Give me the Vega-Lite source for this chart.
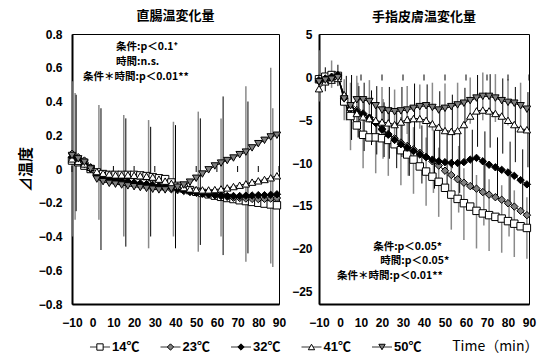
{
  "$schema": "https://vega.github.io/schema/vega-lite/v6.json",
  "background": "white",
  "padding": {"left": 17, "top": 9, "right": 0, "bottom": 0},
  "spacing": 8,
  "datasets": {
    "L": [
      {"t":-10,"14℃":0.05,"23℃":0.09,"32℃":0.07,"41℃":0.06,"50℃":0.08},
      {"t":-7,"14℃":0.04,"23℃":0.07,"32℃":0.05,"41℃":0.045,"50℃":0.06},
      {"t":-4,"14℃":0.02,"23℃":0.05,"32℃":0.03,"41℃":0.03,"50℃":0.04},
      {"t":-1,"14℃":0.0,"23℃":0.01,"32℃":0.0,"41℃":0.01,"50℃":0.0},
      {"t":2,"14℃":-0.02,"23℃":-0.04,"32℃":-0.03,"41℃":-0.015,"50℃":-0.06},
      {"t":5,"14℃":-0.03,"23℃":-0.06,"32℃":-0.05,"41℃":-0.025,"50℃":-0.075},
      {"t":8,"14℃":-0.035,"23℃":-0.07,"32℃":-0.06,"41℃":-0.03,"50℃":-0.085},
      {"t":11,"14℃":-0.035,"23℃":-0.075,"32℃":-0.065,"41℃":-0.035,"50℃":-0.09},
      {"t":14,"14℃":-0.035,"23℃":-0.08,"32℃":-0.07,"41℃":-0.035,"50℃":-0.095},
      {"t":17,"14℃":-0.035,"23℃":-0.085,"32℃":-0.075,"41℃":-0.035,"50℃":-0.1},
      {"t":20,"14℃":-0.035,"23℃":-0.09,"32℃":-0.08,"41℃":-0.037,"50℃":-0.105},
      {"t":23,"14℃":-0.038,"23℃":-0.095,"32℃":-0.085,"41℃":-0.04,"50℃":-0.11},
      {"t":26,"14℃":-0.042,"23℃":-0.1,"32℃":-0.09,"41℃":-0.043,"50℃":-0.115},
      {"t":29,"14℃":-0.048,"23℃":-0.105,"32℃":-0.095,"41℃":-0.048,"50℃":-0.12},
      {"t":32,"14℃":-0.055,"23℃":-0.11,"32℃":-0.1,"41℃":-0.06,"50℃":-0.124},
      {"t":35,"14℃":-0.06,"23℃":-0.115,"32℃":-0.105,"41℃":-0.072,"50℃":-0.124},
      {"t":38,"14℃":-0.08,"23℃":-0.12,"32℃":-0.11,"41℃":-0.085,"50℃":-0.118},
      {"t":41,"14℃":-0.1,"23℃":-0.125,"32℃":-0.118,"41℃":-0.1,"50℃":-0.108},
      {"t":44,"14℃":-0.115,"23℃":-0.13,"32℃":-0.125,"41℃":-0.11,"50℃":-0.095},
      {"t":47,"14℃":-0.125,"23℃":-0.135,"32℃":-0.135,"41℃":-0.118,"50℃":-0.078},
      {"t":50,"14℃":-0.135,"23℃":-0.14,"32℃":-0.14,"41℃":-0.122,"50℃":-0.055},
      {"t":53,"14℃":-0.142,"23℃":-0.145,"32℃":-0.145,"41℃":-0.124,"50℃":-0.03},
      {"t":56,"14℃":-0.15,"23℃":-0.15,"32℃":-0.15,"41℃":-0.124,"50℃":-0.005},
      {"t":59,"14℃":-0.158,"23℃":-0.155,"32℃":-0.155,"41℃":-0.122,"50℃":0.018},
      {"t":62,"14℃":-0.165,"23℃":-0.16,"32℃":-0.158,"41℃":-0.118,"50℃":0.035},
      {"t":65,"14℃":-0.172,"23℃":-0.165,"32℃":-0.16,"41℃":-0.112,"50℃":0.05},
      {"t":68,"14℃":-0.178,"23℃":-0.17,"32℃":-0.16,"41℃":-0.104,"50℃":0.065},
      {"t":71,"14℃":-0.185,"23℃":-0.172,"32℃":-0.16,"41℃":-0.096,"50℃":0.085},
      {"t":74,"14℃":-0.19,"23℃":-0.175,"32℃":-0.158,"41℃":-0.088,"50℃":0.1},
      {"t":77,"14℃":-0.195,"23℃":-0.177,"32℃":-0.157,"41℃":-0.078,"50℃":0.125},
      {"t":80,"14℃":-0.2,"23℃":-0.178,"32℃":-0.155,"41℃":-0.07,"50℃":0.15},
      {"t":83,"14℃":-0.205,"23℃":-0.177,"32℃":-0.155,"41℃":-0.062,"50℃":0.17},
      {"t":86,"14℃":-0.21,"23℃":-0.175,"32℃":-0.153,"41℃":-0.052,"50℃":0.19},
      {"t":89,"14℃":-0.215,"23℃":-0.172,"32℃":-0.15,"41℃":-0.04,"50℃":0.2}
    ],
    "R": [
      {"t":-10,"14℃":-0.2,"23℃":-0.3,"32℃":-0.4,"41℃":-1.3,"50℃":-0.5},
      {"t":-7,"14℃":0.1,"23℃":-0.2,"32℃":-0.1,"41℃":-0.5,"50℃":-0.3},
      {"t":-4,"14℃":0.3,"23℃":0.0,"32℃":0.1,"41℃":-0.3,"50℃":-0.2},
      {"t":-1,"14℃":0.2,"23℃":0.2,"32℃":0.3,"41℃":-0.1,"50℃":0.0},
      {"t":2,"14℃":-2.8,"23℃":-2.2,"32℃":-2.4,"41℃":-2.0,"50℃":-2.5},
      {"t":5,"14℃":-4.5,"23℃":-3.4,"32℃":-3.6,"41℃":-3.5,"50℃":-3.3},
      {"t":8,"14℃":-5.6,"23℃":-3.8,"32℃":-4.0,"41℃":-4.2,"50℃":-2.6},
      {"t":11,"14℃":-6.7,"23℃":-4.2,"32℃":-4.3,"41℃":-4.6,"50℃":-2.6},
      {"t":14,"14℃":-7.0,"23℃":-4.7,"32℃":-4.7,"41℃":-4.8,"50℃":-2.8},
      {"t":17,"14℃":-7.0,"23℃":-5.3,"32℃":-5.3,"41℃":-5.0,"50℃":-3.3},
      {"t":20,"14℃":-7.1,"23℃":-6.0,"32℃":-6.1,"41℃":-5.2,"50℃":-3.8},
      {"t":23,"14℃":-7.3,"23℃":-6.6,"32℃":-6.7,"41℃":-5.3,"50℃":-3.9},
      {"t":26,"14℃":-7.8,"23℃":-7.1,"32℃":-7.3,"41℃":-5.5,"50℃":-4.0},
      {"t":29,"14℃":-8.5,"23℃":-7.6,"32℃":-7.8,"41℃":-5.2,"50℃":-3.9},
      {"t":32,"14℃":-9.0,"23℃":-8.0,"32℃":-8.2,"41℃":-4.9,"50℃":-3.8},
      {"t":35,"14℃":-9.6,"23℃":-8.4,"32℃":-8.6,"41℃":-4.8,"50℃":-3.6},
      {"t":38,"14℃":-10.4,"23℃":-8.8,"32℃":-9.0,"41℃":-4.8,"50℃":-3.4},
      {"t":41,"14℃":-11.0,"23℃":-9.3,"32℃":-9.3,"41℃":-5.0,"50℃":-3.3},
      {"t":44,"14℃":-11.6,"23℃":-9.8,"32℃":-9.6,"41℃":-5.4,"50℃":-3.5},
      {"t":47,"14℃":-12.2,"23℃":-10.3,"32℃":-9.8,"41℃":-5.8,"50℃":-3.8},
      {"t":50,"14℃":-12.9,"23℃":-10.9,"32℃":-9.9,"41℃":-6.2,"50℃":-3.6},
      {"t":53,"14℃":-13.7,"23℃":-11.4,"32℃":-10.0,"41℃":-6.3,"50℃":-3.4},
      {"t":56,"14℃":-14.2,"23℃":-11.9,"32℃":-10.0,"41℃":-6.2,"50℃":-3.2},
      {"t":59,"14℃":-14.7,"23℃":-12.3,"32℃":-9.9,"41℃":-5.5,"50℃":-3.0},
      {"t":62,"14℃":-15.1,"23℃":-12.7,"32℃":-9.6,"41℃":-4.5,"50℃":-2.7},
      {"t":65,"14℃":-15.6,"23℃":-13.0,"32℃":-9.4,"41℃":-3.9,"50℃":-2.4},
      {"t":68,"14℃":-15.9,"23℃":-13.4,"32℃":-9.8,"41℃":-3.8,"50℃":-2.2},
      {"t":71,"14℃":-16.1,"23℃":-13.7,"32℃":-10.2,"41℃":-3.9,"50℃":-2.2},
      {"t":74,"14℃":-16.3,"23℃":-14.0,"32℃":-10.5,"41℃":-4.2,"50℃":-2.4},
      {"t":77,"14℃":-16.5,"23℃":-14.3,"32℃":-10.8,"41℃":-4.5,"50℃":-2.7},
      {"t":80,"14℃":-16.8,"23℃":-14.7,"32℃":-11.1,"41℃":-5.0,"50℃":-2.9},
      {"t":83,"14℃":-17.1,"23℃":-15.1,"32℃":-11.5,"41℃":-5.5,"50℃":-3.0},
      {"t":86,"14℃":-17.4,"23℃":-15.6,"32℃":-12.0,"41℃":-6.0,"50℃":-3.3},
      {"t":89,"14℃":-17.6,"23℃":-16.1,"32℃":-12.5,"41℃":-6.1,"50℃":-3.7}
    ],
    "LE": [
      {"t":-9.5,"lo":-0.40,"hi":0.52,"c":"g"},{"t":-8.5,"lo":-0.30,"hi":0.45,"c":"g"},{"t":-8,"lo":-0.25,"hi":0.44,"c":"k"},
      {"t":3,"lo":-0.30,"hi":0.38,"c":"g"},{"t":4,"lo":-0.48,"hi":0.36,"c":"k"},
      {"t":15,"lo":-0.40,"hi":0.32,"c":"g"},{"t":16,"lo":-0.46,"hi":0.30,"c":"k"},
      {"t":27,"lo":-0.47,"hi":0.29,"c":"g"},{"t":28,"lo":-0.40,"hi":0.25,"c":"k"},
      {"t":39,"lo":-0.40,"hi":0.28,"c":"g"},{"t":40,"lo":-0.47,"hi":0.26,"c":"k"},
      {"t":51,"lo":-0.49,"hi":0.34,"c":"g"},{"t":52,"lo":-0.45,"hi":0.30,"c":"k"},
      {"t":62,"lo":-0.40,"hi":0.30,"c":"g"},{"t":63,"lo":-0.51,"hi":0.43,"c":"k"},
      {"t":74,"lo":-0.55,"hi":0.49,"c":"g"},{"t":75,"lo":-0.50,"hi":0.40,"c":"k"},
      {"t":86,"lo":-0.56,"hi":0.60,"c":"g"},{"t":87,"lo":-0.58,"hi":0.36,"c":"g"}
    ],
    "RE": [
      {"t":-10,"lo":-2.8,"hi":3.2,"c":"g"},{"t":-7,"lo":-1.6,"hi":1.2,"c":"k"},{"t":-4,"lo":-1.2,"hi":2.0,"c":"g"},{"t":-1,"lo":-1.0,"hi":1.5,"c":"k"},
      {"t":5,"lo":-8.5,"hi":-0.6,"c":"g"},{"t":11,"lo":-10.6,"hi":-2.9,"c":"g"},{"t":17,"lo":-11.2,"hi":-3.0,"c":"g"},{"t":23,"lo":-11.5,"hi":-3.4,"c":"g"},
      {"t":29,"lo":-12.6,"hi":-4.6,"c":"g"},{"t":35,"lo":-13.6,"hi":-5.8,"c":"g"},{"t":41,"lo":-15.0,"hi":-7.0,"c":"g"},{"t":47,"lo":-16.3,"hi":-8.2,"c":"g"},
      {"t":53,"lo":-17.8,"hi":-9.8,"c":"g"},{"t":59,"lo":-19.0,"hi":-10.6,"c":"g"},{"t":65,"lo":-20.0,"hi":-11.4,"c":"g"},{"t":71,"lo":-20.3,"hi":-11.9,"c":"g"},
      {"t":77,"lo":-20.5,"hi":-12.6,"c":"g"},{"t":83,"lo":-21.0,"hi":-13.2,"c":"g"},{"t":89,"lo":-21.2,"hi":-14.0,"c":"g"},
      {"t":2,"lo":-5.0,"hi":-0.2,"c":"g"},{"t":8,"lo":-5.4,"hi":0.2,"c":"g"},{"t":14,"lo":-5.3,"hi":-0.3,"c":"g"},{"t":20,"lo":-6.5,"hi":-1.1,"c":"g"},
      {"t":26,"lo":-6.6,"hi":-1.4,"c":"g"},{"t":32,"lo":-6.6,"hi":-1.0,"c":"g"},{"t":38,"lo":-6.0,"hi":-0.8,"c":"g"},{"t":44,"lo":-6.2,"hi":-0.6,"c":"g"},
      {"t":50,"lo":-6.5,"hi":-0.7,"c":"g"},{"t":56,"lo":-5.8,"hi":-0.6,"c":"g"},{"t":62,"lo":-5.4,"hi":0.0,"c":"g"},{"t":68,"lo":-5.0,"hi":0.6,"c":"g"},
      {"t":74,"lo":-5.2,"hi":0.4,"c":"g"},{"t":80,"lo":-5.6,"hi":-0.2,"c":"g"},{"t":86,"lo":-6.0,"hi":-0.6,"c":"g"},
      {"t":8.5,"lo":-7.0,"hi":-0.6,"c":"g"},{"t":20.5,"lo":-9.5,"hi":-2.5,"c":"g"},{"t":32.5,"lo":-11.5,"hi":-4.5,"c":"g"},{"t":44.5,"lo":-13.5,"hi":-6.1,"c":"g"},
      {"t":56.5,"lo":-15.8,"hi":-8.0,"c":"g"},{"t":68.5,"lo":-17.3,"hi":-9.5,"c":"g"},{"t":80.5,"lo":-18.6,"hi":-10.8,"c":"g"},
      {"t":5.5,"lo":-7.3,"hi":0.3,"c":"k"},{"t":11.5,"lo":-8.6,"hi":-0.6,"c":"k"},{"t":17.5,"lo":-9.0,"hi":-1.0,"c":"k"},{"t":23.5,"lo":-9.5,"hi":-1.1,"c":"k"},
      {"t":29.5,"lo":-9.3,"hi":-1.1,"c":"k"},{"t":35.5,"lo":-8.9,"hi":-0.7,"c":"k"},{"t":41.5,"lo":-9.2,"hi":-0.8,"c":"k"},{"t":47.5,"lo":-10.0,"hi":-1.6,"c":"k"},
      {"t":53.5,"lo":-10.6,"hi":-2.0,"c":"k"},{"t":59.5,"lo":-9.8,"hi":-1.2,"c":"k"},{"t":65.5,"lo":-8.1,"hi":0.3,"c":"k"},{"t":71.5,"lo":-8.2,"hi":0.4,"c":"k"},
      {"t":77.5,"lo":-8.9,"hi":-0.1,"c":"k"},{"t":83.5,"lo":-9.9,"hi":-1.1,"c":"k"},{"t":89.5,"lo":-10.5,"hi":-1.7,"c":"k"},
      {"t":3,"lo":-5.0,"hi":0.2,"c":"k"},{"t":9,"lo":-7.0,"hi":-1.0,"c":"k"},{"t":15,"lo":-7.9,"hi":-1.5,"c":"k"},{"t":21,"lo":-9.3,"hi":-2.9,"c":"k"},
      {"t":27,"lo":-10.6,"hi":-4.0,"c":"k"},{"t":33,"lo":-11.5,"hi":-4.9,"c":"k"},{"t":39,"lo":-12.4,"hi":-5.6,"c":"k"},{"t":45,"lo":-13.0,"hi":-6.2,"c":"k"},
      {"t":51,"lo":-13.4,"hi":-6.4,"c":"k"},{"t":57,"lo":-13.5,"hi":-6.5,"c":"k"},{"t":63,"lo":-13.1,"hi":-6.1,"c":"k"},{"t":69,"lo":-13.3,"hi":-6.3,"c":"k"},
      {"t":75,"lo":-14.0,"hi":-7.0,"c":"k"},{"t":81,"lo":-14.7,"hi":-7.5,"c":"k"},{"t":87,"lo":-15.6,"hi":-8.4,"c":"k"}
    ],
    "TK": [{"t":-10},{"t":0},{"t":10},{"t":20},{"t":30},{"t":40},{"t":50},{"t":60},{"t":70},{"t":80},{"t":90}],
    "LG": [{"s":"14℃"},{"s":"23℃"},{"s":"32℃"},{"s":"41℃"},{"s":"50℃"}],
    "A": [
      {"p":"L","t":11.3,"v":0.725,"txt":"条件:p＜0.1⁺"},
      {"p":"L","t":11.3,"v":0.632,"txt":"時間:n.s."},
      {"p":"L","t":-4.7,"v":0.543,"txt":"条件＊時間:p＜0.01**"},
      {"p":"R","t":15.8,"v":-19.8,"txt":"条件:p＜0.05*"},
      {"p":"R","t":19.2,"v":-21.45,"txt":"時間:p＜0.05*"},
      {"p":"R","t":-1.4,"v":-23.2,"txt":"条件＊時間:p＜0.01**"}
    ]
  },
  "vconcat": [
    {
      "spacing": 40,
      "bounds": "flush",
      "hconcat": [
        {
          "width": 207,
          "height": 270,
          "title": "直腸温変化量",
          "encoding": {
            "x": {"field": "t", "type": "quantitative", "scale": {"domain": [-10, 90], "nice": false, "zero": false},
                  "axis": {"values": [-10,0,10,20,30,40,50,60,70,80,90], "labelFlush": false, "labelOverlap": false, "labelPadding": 13, "title": null}}
          },
          "layer": [
            {
              "data": {"name": "LE"},
              "transform": [{"filter": {"field": "c", "equal": "g"}}],
              "mark": {"type": "rule", "color": "#8a8a8a", "strokeWidth": 1.5},
              "encoding": {
                "y": {"field": "lo", "type": "quantitative", "scale": {"domain": [-0.8, 0.8], "nice": false, "zero": false}, "title": "⊿温度",
                      "axis": {"values": [-0.8,-0.6,-0.4,-0.2,0,0.2,0.4,0.6,0.8], "format": ".1~f", "labelOverlap": false, "labelPadding": 10, "titleFont": "Noto Sans CJK JP", "titleFontSize": 15, "titleFontWeight": "bold", "titlePadding": 5}},
                "y2": {"field": "hi"}
              }
            },
            {
              "data": {"name": "LE"},
              "transform": [{"filter": {"field": "c", "equal": "k"}}],
              "mark": {"type": "rule", "color": "black", "strokeWidth": 1},
              "encoding": {
                "y": {"field": "lo", "type": "quantitative", "scale": {"domain": [-0.8, 0.8], "nice": false, "zero": false}, "title": "⊿温度",
                      "axis": {"values": [-0.8,-0.6,-0.4,-0.2,0,0.2,0.4,0.6,0.8], "format": ".1~f", "labelOverlap": false, "labelPadding": 10, "titleFont": "Noto Sans CJK JP", "titleFontSize": 15, "titleFontWeight": "bold", "titlePadding": 5}},
                "y2": {"field": "hi"}
              }
            },
            {
              "data": {"values": [{}]},
              "mark": {"type": "rule", "color": "black", "strokeWidth": 1},
              "encoding": {
                "x": {"datum": -10, "type": "quantitative"},
                "x2": {"datum": 90},
                "y": {"datum": 0, "type": "quantitative", "scale": {"domain": [-0.8, 0.8], "nice": false, "zero": false}, "title": "⊿温度",
                      "axis": {"values": [-0.8,-0.6,-0.4,-0.2,0,0.2,0.4,0.6,0.8], "format": ".1~f", "labelOverlap": false, "labelPadding": 10, "titleFont": "Noto Sans CJK JP", "titleFontSize": 15, "titleFontWeight": "bold", "titlePadding": 5}}
              }
            },
            {
              "data": {"name": "TK"},
              "mark": {"type": "tick", "orient": "vertical", "size": 6, "thickness": 1, "color": "black", "opacity": 1},
              "encoding": {
                "y": {"datum": 0, "type": "quantitative", "scale": {"domain": [-0.8, 0.8], "nice": false, "zero": false}, "title": "⊿温度",
                      "axis": {"values": [-0.8,-0.6,-0.4,-0.2,0,0.2,0.4,0.6,0.8], "format": ".1~f", "labelOverlap": false, "labelPadding": 10, "titleFont": "Noto Sans CJK JP", "titleFontSize": 15, "titleFontWeight": "bold", "titlePadding": 5}}
              }
            },
            {
              "data": {"name": "L"},
              "transform": [{"fold": ["14℃","23℃","32℃","41℃","50℃"], "as": ["s", "value"]}],
              "mark": {"type": "line", "color": "black", "strokeWidth": 1},
              "encoding": {
                "y": {"field": "value", "type": "quantitative", "scale": {"domain": [-0.8, 0.8], "nice": false, "zero": false}, "title": "⊿温度",
                      "axis": {"values": [-0.8,-0.6,-0.4,-0.2,0,0.2,0.4,0.6,0.8], "format": ".1~f", "labelOverlap": false, "labelPadding": 10, "titleFont": "Noto Sans CJK JP", "titleFontSize": 15, "titleFontWeight": "bold", "titlePadding": 5}},
                "detail": {"field": "s"}
              }
            },
            {
              "data": {"name": "L"},
              "transform": [{"fold": ["14℃","23℃","32℃","41℃","50℃"], "as": ["s", "value"]}],
              "mark": {"type": "point", "filled": true, "stroke": "black", "strokeWidth": 1, "opacity": 1, "size": 55},
              "encoding": {
                "y": {"field": "value", "type": "quantitative", "scale": {"domain": [-0.8, 0.8], "nice": false, "zero": false}, "title": "⊿温度",
                      "axis": {"values": [-0.8,-0.6,-0.4,-0.2,0,0.2,0.4,0.6,0.8], "format": ".1~f", "labelOverlap": false, "labelPadding": 10, "titleFont": "Noto Sans CJK JP", "titleFontSize": 15, "titleFontWeight": "bold", "titlePadding": 5}},
                "shape": {"field": "s", "type": "nominal",
                          "scale": {"domain": ["14℃","23℃","32℃","41℃","50℃"], "range": ["square","diamond","diamond","triangle-up","triangle-down"]},
                          "legend": null},
                "fill": {"field": "s", "type": "nominal",
                         "scale": {"domain": ["14℃","23℃","32℃","41℃","50℃"], "range": ["#ffffff","#808080","#000000","#ffffff","#808080"]},
                         "legend": null},
                "order": {"field": "s", "type": "ordinal"}
              }
            },
            {
              "data": {"name": "A"},
              "transform": [{"filter": {"field": "p", "equal": "L"}}],
              "mark": {"type": "text", "align": "left", "baseline": "middle", "font": "Noto Sans CJK JP", "fontSize": 10.5, "fontWeight": "bold", "color": "black"},
              "encoding": {
                "y": {"field": "v", "type": "quantitative", "scale": {"domain": [-0.8, 0.8], "nice": false, "zero": false}, "title": "⊿温度",
                      "axis": {"values": [-0.8,-0.6,-0.4,-0.2,0,0.2,0.4,0.6,0.8], "format": ".1~f", "labelOverlap": false, "labelPadding": 10, "titleFont": "Noto Sans CJK JP", "titleFontSize": 15, "titleFontWeight": "bold", "titlePadding": 5}},
                "text": {"field": "txt"}
              }
            }
          ]
        },
        {
          "width": 210,
          "height": 270,
          "title": "手指皮膚温変化量",
          "encoding": {
            "x": {"field": "t", "type": "quantitative", "scale": {"domain": [-10, 90], "nice": false, "zero": false},
                  "axis": {"values": [-10,0,10,20,30,40,50,60,70,80,90], "labelFlush": false, "labelOverlap": false, "labelPadding": 13, "title": null}}
          },
          "layer": [
            {
              "data": {"name": "RE"},
              "transform": [{"filter": {"field": "c", "equal": "g"}}],
              "mark": {"type": "rule", "color": "#8a8a8a", "strokeWidth": 1.5},
              "encoding": {
                "y": {"field": "lo", "type": "quantitative", "scale": {"domain": [-26.5, 5.1], "nice": false, "zero": false}, "title": null},
                "y2": {"field": "hi"}
              }
            },
            {
              "data": {"name": "RE"},
              "transform": [{"filter": {"field": "c", "equal": "k"}}],
              "mark": {"type": "rule", "color": "black", "strokeWidth": 1},
              "encoding": {
                "y": {"field": "lo", "type": "quantitative", "scale": {"domain": [-26.5, 5.1], "nice": false, "zero": false}, "title": null},
                "y2": {"field": "hi"}
              }
            },
            {
              "data": {"values": [{}]},
              "mark": {"type": "rule", "color": "black", "strokeWidth": 1},
              "encoding": {
                "x": {"datum": -10, "type": "quantitative"},
                "x2": {"datum": 90},
                "y": {"datum": 0, "type": "quantitative", "scale": {"domain": [-26.5, 5.1], "nice": false, "zero": false}, "title": null}
              }
            },
            {
              "data": {"name": "TK"},
              "mark": {"type": "tick", "orient": "vertical", "size": 6, "thickness": 1, "color": "black", "opacity": 1},
              "encoding": {
                "y": {"datum": 0, "type": "quantitative", "scale": {"domain": [-26.5, 5.1], "nice": false, "zero": false}, "title": null}
              }
            },
            {
              "data": {"name": "R"},
              "transform": [{"fold": ["14℃","23℃","32℃","41℃","50℃"], "as": ["s", "value"]}],
              "mark": {"type": "line", "color": "black", "strokeWidth": 1},
              "encoding": {
                "y": {"field": "value", "type": "quantitative", "scale": {"domain": [-26.5, 5.1], "nice": false, "zero": false}, "title": null},
                "detail": {"field": "s"}
              }
            },
            {
              "data": {"name": "R"},
              "transform": [{"fold": ["14℃","23℃","32℃","41℃","50℃"], "as": ["s", "value"]}],
              "mark": {"type": "point", "filled": true, "stroke": "black", "strokeWidth": 1, "opacity": 1, "size": 55},
              "encoding": {
                "y": {"field": "value", "type": "quantitative", "scale": {"domain": [-26.5, 5.1], "nice": false, "zero": false}, "title": null,
                      "axis": {"values": [5,0,-5,-10,-15,-20,-25], "format": "d", "labelOverlap": false, "labelPadding": 7}},
                "shape": {"field": "s", "type": "nominal",
                          "scale": {"domain": ["14℃","23℃","32℃","41℃","50℃"], "range": ["square","diamond","diamond","triangle-up","triangle-down"]},
                          "legend": null},
                "fill": {"field": "s", "type": "nominal",
                         "scale": {"domain": ["14℃","23℃","32℃","41℃","50℃"], "range": ["#ffffff","#808080","#000000","#ffffff","#808080"]},
                         "legend": null},
                "order": {"field": "s", "type": "ordinal"}
              }
            },
            {
              "data": {"name": "A"},
              "transform": [{"filter": {"field": "p", "equal": "R"}}],
              "mark": {"type": "text", "align": "left", "baseline": "middle", "font": "Noto Sans CJK JP", "fontSize": 10.5, "fontWeight": "bold", "color": "black"},
              "encoding": {
                "y": {"field": "v", "type": "quantitative", "scale": {"domain": [-26.5, 5.1], "nice": false, "zero": false}, "title": null},
                "text": {"field": "txt"}
              }
            }
          ]
        }
      ]
    },
    {
      "width": 338,
      "height": 20,
      "view": {"stroke": null},
      "data": {"name": "LG"},
      "encoding": {
        "x": {"field": "s", "type": "nominal", "scale": {"type": "point", "domain": ["14℃","23℃","32℃","41℃","50℃"], "padding": 0.397},
              "axis": {"orient": "top", "labels": false, "ticks": false, "domain": false, "title": "Time（min）",
                       "titleFont": "Noto Sans CJK JP", "titleFontSize": 14, "titleFontWeight": "normal", "titleColor": "black",
                       "titleAlign": "right", "titleBaseline": "middle", "titleAnchor": "end", "titleX": 466, "titleY": 9}},
        "y": {"datum": 0, "type": "quantitative", "scale": {"domain": [-1, 1]},
              "axis": {"values": [0], "labelExpr": "'−0.8'", "labelColor": "transparent", "labelPadding": 10, "domain": false, "ticks": false,
                       "title": "⊿", "titleFont": "Noto Sans CJK JP", "titleFontSize": 15, "titleFontWeight": "bold", "titleColor": "transparent", "titlePadding": 5}}
      },
      "layer": [
        {
          "mark": {"type": "rule", "color": "#333333", "strokeWidth": 1, "xOffset": -10, "x2Offset": 10},
          "encoding": {"x2": {"field": "s"}}
        },
        {
          "mark": {"type": "point", "filled": true, "stroke": "black", "strokeWidth": 1, "opacity": 1, "size": 40},
          "encoding": {
            "shape": {"field": "s", "type": "nominal",
                      "scale": {"domain": ["14℃","23℃","32℃","41℃","50℃"], "range": ["square","diamond","diamond","triangle-up","triangle-down"]},
                      "legend": null},
            "fill": {"field": "s", "type": "nominal",
                     "scale": {"domain": ["14℃","23℃","32℃","41℃","50℃"], "range": ["#ffffff","#808080","#000000","#ffffff","#808080"]},
                     "legend": null}
          }
        },
        {
          "mark": {"type": "text", "align": "left", "baseline": "middle", "dx": 12, "font": "Liberation Sans, Noto Sans CJK JP", "fontSize": 13, "fontWeight": "bold", "color": "black"},
          "encoding": {"text": {"field": "s"}}
        }
      ]
    }
  ],
  "config": {
    "view": {"stroke": "black", "strokeWidth": 1},
    "axis": {"labelFont": "Liberation Sans", "labelFontSize": 12, "labelFontWeight": "bold", "labelColor": "black", "labelOverlap": false,
             "domainColor": "black", "domainWidth": 2, "grid": false, "ticks": false, "tickSize": 0, "titleColor": "black"},
    "title": {"font": "Noto Sans CJK JP", "fontSize": 13, "fontWeight": "bold", "color": "black", "offset": 5}
  }
}
